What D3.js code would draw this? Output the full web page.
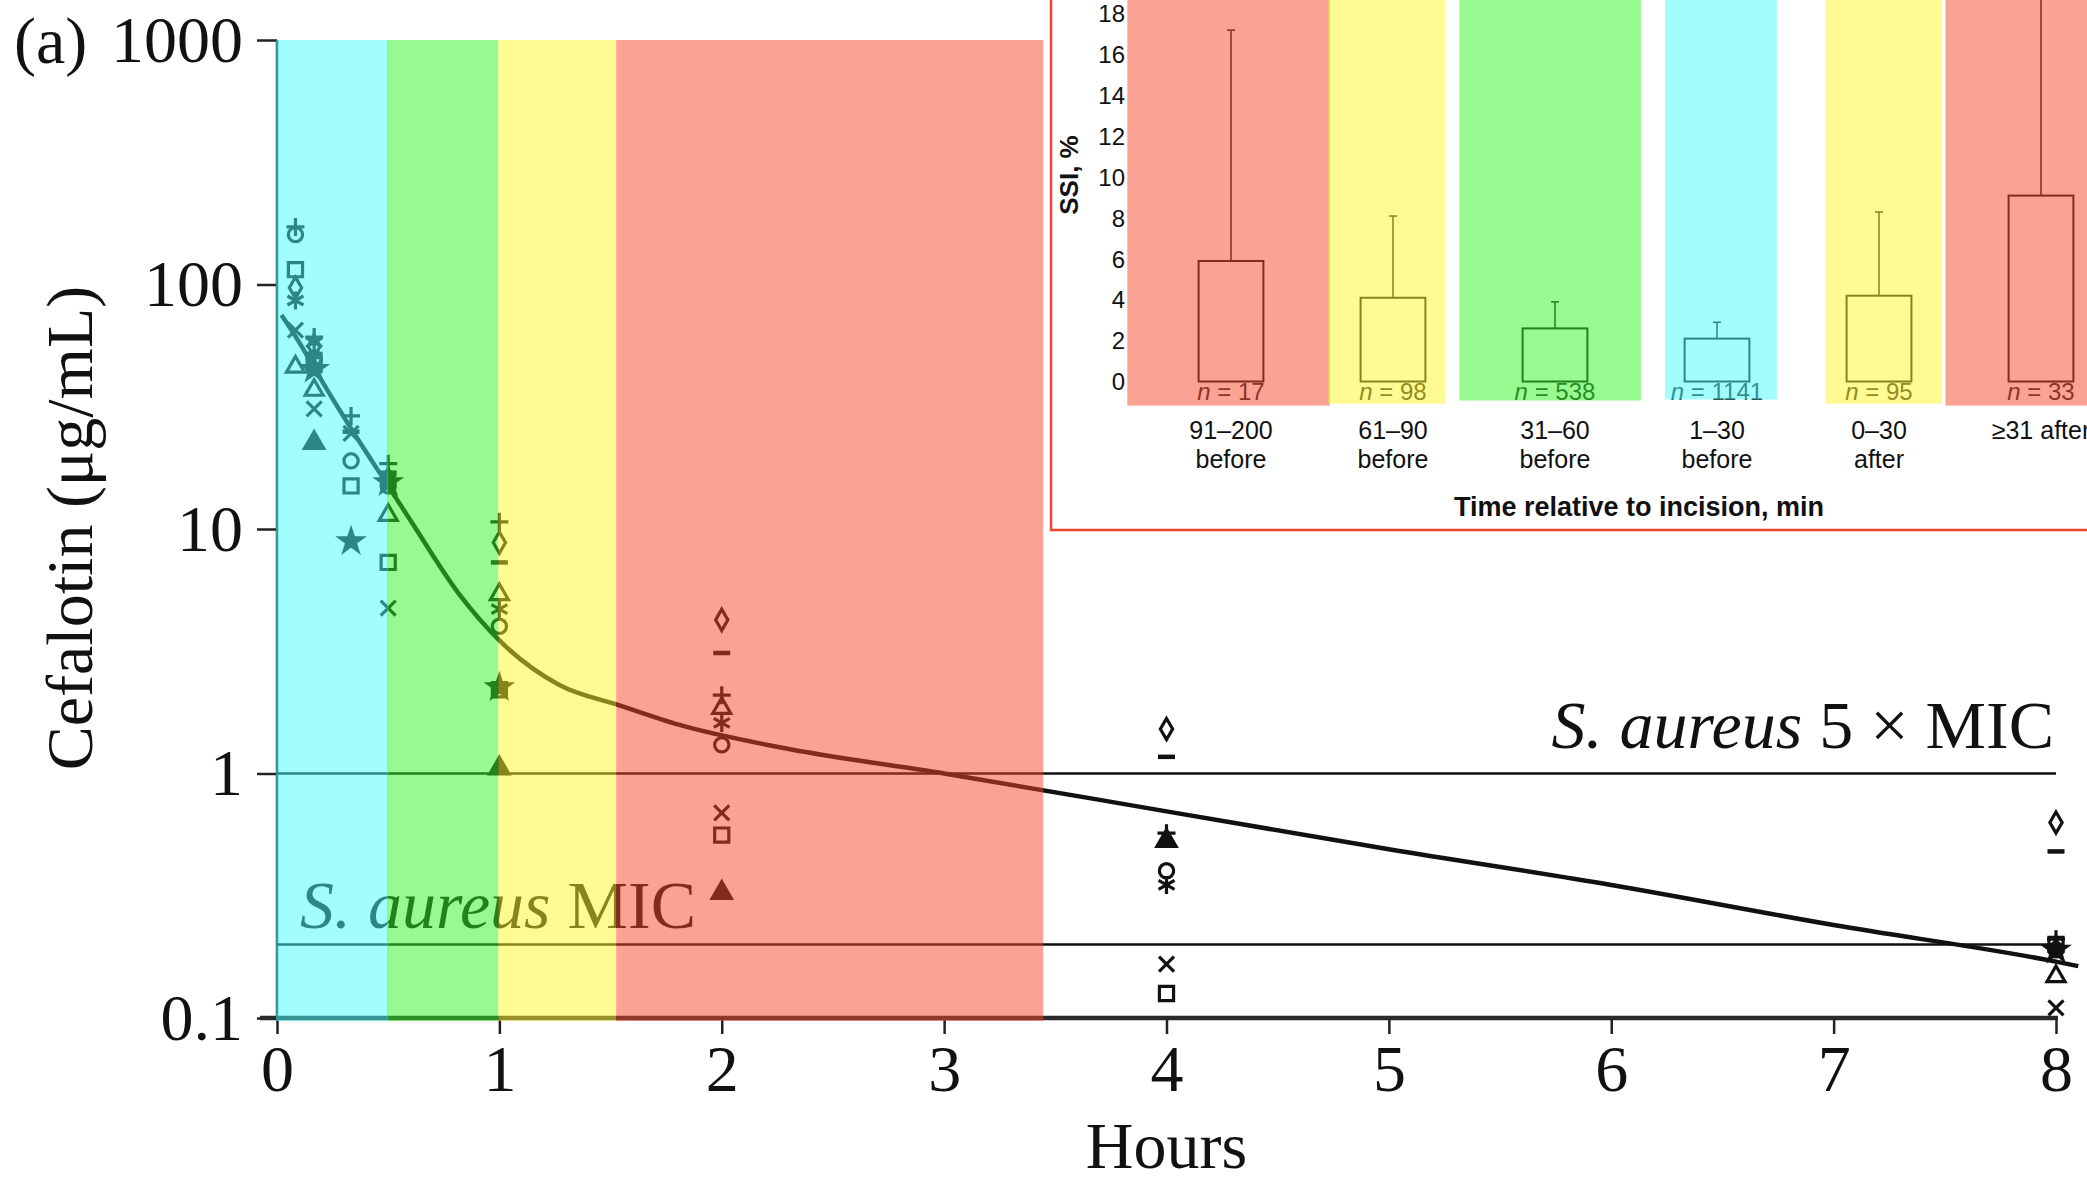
<!DOCTYPE html>
<html lang="en">
<head>
<meta charset="utf-8">
<script src="https://d3js.org/d3.v7.min.js"></script>
<style>
  body { margin: 0; background: #fff; }
  svg { display: block; }
</style>
</head>
<body>
<script>
// ---- main panel: cefalotin concentration (ug/mL) vs hours ----
var sampleHours = [0.083, 0.167, 0.333, 0.5, 1, 2, 4, 8];

var concCircle    = [160, 50, 19, 15, 4.0, 1.31, 0.40, 0.19];
var concSquare    = [115, 47, 15, 7.3, 2.2, 0.56, 0.126, 0.2];
var concDiamond   = [97, 56, null, 16, 8.8, 4.25, 1.52, 0.63];
var concTriangle  = [46, 37, null, 11.4, 5.4, 1.85, null, 0.148];
var concTriFilled = [null, 22.5, null, null, 1.05, 0.325, 0.53, null];
var concTimes     = [65, 31, 24.6, 4.75, null, 0.69, 0.166, 0.11];
var concPlus      = [172, 61, 29, 18.5, 10.7, 2.09, 0.57, 0.21];
var concMinus     = [null, 52, 25, 17, 7.3, 3.11, 1.17, 0.48];
var concStar      = [null, 45, 8.9, 15.5, 2.25, null, null, 0.19];
var concAsterisk  = [86, 58, null, 16, 4.7, 1.61, 0.35, null];

// fitted curve
var fitHours = [0.02, 0.1, 0.19, 0.33, 0.5, 0.61, 0.82, 1, 1.27, 1.54, 1.81, 2.26, 3, 4, 5, 6, 7, 8, 8.1];
var fitConc  = [75, 58, 42, 26, 15, 10.5, 5.4, 3.5, 2.3, 1.9, 1.58, 1.28, 1.0, 0.70, 0.49, 0.35, 0.24, 0.17, 0.163];

var micLevels = [1, 0.2];          // 5 x MIC, MIC
var yTicks = [0.1, 1, 10, 100, 1000];
var xTicks = [0, 1, 2, 3, 4, 5, 6, 7, 8];

// highlighted timing windows (h)
var bandStart = [0, 0.5, 1, 1.53];
var bandEnd   = [0.5, 1, 1.53, 3.45];
var bandFill  = ["rgb(69,251,251)", "rgb(45,245,35)", "rgb(255,245,35)", "rgb(245,69,41)"];

// ---- inset: SSI rate by timing of prophylaxis ----
var ssiTop    = ["91–200", "61–90", "31–60", "1–30", "0–30", "≥31 after"];
var ssiBottom = ["before", "before", "before", "before", "after", ""];
var ssiRate   = [5.9, 4.1, 2.6, 2.1, 4.2, 9.1];
var ssiUpper  = [17.2, 8.1, 3.9, 2.9, 8.3, 25];
var ssiN      = [17, 98, 538, 1141, 95, 33];
var ssiTicks  = [0, 2, 4, 6, 8, 10, 12, 14, 16, 18];
var ssiBandFill = ["rgb(245,69,41)", "rgb(255,245,35)", "rgb(45,245,35)", "rgb(69,251,251)", "rgb(255,245,35)", "rgb(245,69,41)"];
var ssiBandLo = [-0.64, -0.40, -0.59, -0.32, -0.33, -0.59];
var ssiBandHi = [0.61, 0.32, 0.53, 0.37, 0.39, 1.2];
var ssiBandBottom = [405.6, 403.6, 400.5, 399.5, 403.6, 405.6];

var W = 2087, H = 1179;
var serif = "'Liberation Serif', 'Times New Roman', serif";
var sans = "'Liberation Sans', Arial, sans-serif";

var svg = d3.select("body").append("svg").attr("width", W).attr("height", H);

var x = d3.scaleLinear().domain([0, 8]).range([277, 2056]);
var y = d3.scaleLog().domain([0.1, 1000]).range([1018, 40]);

// custom stroked symbols
function strokeSym(fn) { return { draw: fn }; }
var symPlus = strokeSym(function (c) { c.moveTo(-9, 0); c.lineTo(9, 0); c.moveTo(0, -9); c.lineTo(0, 9); });
var symTimes = strokeSym(function (c) { c.moveTo(-7.5, -7.5); c.lineTo(7.5, 7.5); c.moveTo(-7.5, 7.5); c.lineTo(7.5, -7.5); });
var symMinus = strokeSym(function (c) { c.moveTo(-8.5, 0); c.lineTo(8.5, 0); });
var symAst = strokeSym(function (c) {
  c.moveTo(0, -9); c.lineTo(0, 9);
  c.moveTo(-8, -4.5); c.lineTo(8, 4.5);
  c.moveTo(-8, 4.5); c.lineTo(8, -4.5);
});

var subjects = [
  { vals: concCircle,    type: d3.symbolCircle,   size: 160, filled: false },
  { vals: concSquare,    type: d3.symbolSquare,   size: 200, filled: false },
  { vals: concDiamond,   type: d3.symbolDiamond,  size: 130, filled: false },
  { vals: concTriangle,  type: d3.symbolTriangle, size: 140, filled: false },
  { vals: concTriFilled, type: d3.symbolTriangle, size: 160, filled: true },
  { vals: concTimes,     type: symTimes,          size: 1,   filled: false },
  { vals: concPlus,      type: symPlus,           size: 1,   filled: false },
  { vals: concMinus,     type: symMinus,          size: 1,   filled: false, wide: true },
  { vals: concStar,      type: d3.symbolStar,     size: 150, filled: true },
  { vals: concAsterisk,  type: symAst,            size: 1,   filled: false }
];

var main = svg.append("g");

// axes
var yAxis = d3.axisLeft(y).tickValues(yTicks).tickFormat(d3.format("~g"))
  .tickSize(20).tickPadding(14);
var gy = main.append("g").attr("transform", "translate(" + x(0) + ",0)").call(yAxis);
gy.select(".domain").remove();
gy.selectAll(".tick line").attr("stroke", "#222").attr("stroke-width", 2.5);
gy.selectAll(".tick text").attr("font-family", serif).attr("font-size", 66).attr("fill", "#111");

var xAxis = d3.axisBottom(x).tickValues(xTicks).tickSize(16).tickPadding(10);
var gx = main.append("g").attr("transform", "translate(0," + y(0.1) + ")").call(xAxis);
gx.select(".domain").remove();
gx.selectAll(".tick line").attr("stroke", "#222").attr("stroke-width", 2.5);
gx.selectAll(".tick text").attr("font-family", serif).attr("font-size", 66).attr("fill", "#111");

main.append("line")
  .attr("x1", x(0)).attr("x2", x(0)).attr("y1", y(1000)).attr("y2", y(0.1))
  .attr("stroke", "#333").attr("stroke-width", 2.5);
main.append("line")
  .attr("x1", x(0) - 17).attr("x2", x(8) + 2).attr("y1", y(0.1)).attr("y2", y(0.1))
  .attr("stroke", "#2a2a2a").attr("stroke-width", 4.5);

// MIC reference lines
main.selectAll(".mic").data(micLevels).enter().append("line")
  .attr("x1", x(0)).attr("x2", x(8))
  .attr("y1", function (d) { return y(d); }).attr("y2", function (d) { return y(d); })
  .attr("stroke", "#111").attr("stroke-width", 2.5);

// fitted curve
var line = d3.line()
  .x(function (d) { return x(d[0]); })
  .y(function (d) { return y(d[1]); })
  .curve(d3.curveMonotoneX);
main.append("path").datum(d3.zip(fitHours, fitConc))
  .attr("d", line).attr("fill", "none")
  .attr("stroke", "#111").attr("stroke-width", 4.5);

// individual subjects
subjects.forEach(function (s) {
  var pts = sampleHours.map(function (h, i) { return [h, s.vals[i]]; })
    .filter(function (p) { return p[1] != null; });
  var sym = d3.symbol().type(s.type).size(s.size);
  main.append("g").selectAll("path").data(pts).enter().append("path")
    .attr("transform", function (p) { return "translate(" + x(p[0]) + "," + y(p[1]) + ")"; })
    .attr("d", sym)
    .attr("fill", s.filled ? "#111" : "none")
    .attr("stroke", "#111")
    .attr("stroke-width", s.wide ? 4.5 : 3.2);
});

// labels
main.append("text").attr("x", 14).attr("y", 63)
  .attr("font-family", serif).attr("font-size", 66).attr("fill", "#111").text("(a)");

main.append("text")
  .attr("transform", "translate(92,528) rotate(-90)")
  .attr("text-anchor", "middle")
  .attr("font-family", serif).attr("font-size", 66).attr("fill", "#111")
  .text("Cefalotin (μg/mL)");

main.append("text").attr("x", x(4)).attr("y", 1168)
  .attr("text-anchor", "middle")
  .attr("font-family", serif).attr("font-size", 66).attr("fill", "#111").text("Hours");

var lab1 = main.append("text").attr("x", 2054).attr("y", 748).attr("text-anchor", "end")
  .attr("font-family", serif).attr("font-size", 68).attr("fill", "#111");
lab1.append("tspan").attr("font-style", "italic").text("S. aureus");
lab1.append("tspan").text(" 5 × MIC");

var lab2 = main.append("text").attr("x", 300).attr("y", 928)
  .attr("font-family", serif).attr("font-size", 68).attr("fill", "#111");
lab2.append("tspan").attr("font-style", "italic").text("S. aureus");
lab2.append("tspan").text(" MIC");

// translucent timing bands over everything in the panel
main.append("g").selectAll("rect").data(bandStart).enter().append("rect")
  .attr("x", function (d) { return x(d) - 1; })
  .attr("width", function (d, i) { return x(bandEnd[i]) - x(d) + (i === 0 ? 1 : 0); })
  .attr("y", y(1000)).attr("height", y(0.1) - y(1000) + 3)
  .attr("fill", function (d, i) { return bandFill[i]; })
  .attr("opacity", 0.5);

// ---- inset ----
var inset = svg.append("g");
var xs = d3.scaleLinear().domain([0, 5]).range([1231, 2041]);
var ys = d3.scaleLinear().domain([0, 18]).range([381.5, 13.8]);
var step = xs(1) - xs(0);
var boxW = step * 0.4;

inset.append("rect").attr("x", 1051).attr("y", -20).attr("width", 1200).attr("height", 550)
  .attr("fill", "#fff");

inset.selectAll(".ytick").data(ssiTicks).enter().append("text")
  .attr("x", 1125).attr("y", function (d) { return ys(d); }).attr("dy", "0.36em")
  .attr("text-anchor", "end")
  .attr("font-family", sans).attr("font-size", 24).attr("fill", "#111")
  .text(function (d) { return d; });

inset.append("text")
  .attr("transform", "translate(1078,175) rotate(-90)")
  .attr("text-anchor", "middle")
  .attr("font-family", sans).attr("font-weight", "bold").attr("font-size", 26).attr("fill", "#111")
  .text("SSI, %");

var grp = inset.selectAll(".grp").data(ssiRate).enter().append("g");
grp.append("rect")
  .attr("x", function (d, i) { return xs(i) - boxW / 2; })
  .attr("width", boxW)
  .attr("y", function (d) { return ys(d); })
  .attr("height", function (d) { return ys(0) - ys(d); })
  .attr("fill", "none").attr("stroke", "#111").attr("stroke-width", 2);
grp.append("line")
  .attr("x1", function (d, i) { return xs(i); }).attr("x2", function (d, i) { return xs(i); })
  .attr("y1", function (d) { return ys(d); })
  .attr("y2", function (d, i) { return ys(ssiUpper[i]); })
  .attr("stroke", "#111").attr("stroke-width", 1.5);
grp.append("line")
  .attr("x1", function (d, i) { return xs(i) - 4; }).attr("x2", function (d, i) { return xs(i) + 4; })
  .attr("y1", function (d, i) { return ys(ssiUpper[i]); })
  .attr("y2", function (d, i) { return ys(ssiUpper[i]); })
  .attr("stroke", "#111").attr("stroke-width", 1.5);
var nt = grp.append("text")
  .attr("x", function (d, i) { return xs(i); }).attr("y", 400)
  .attr("text-anchor", "middle")
  .attr("font-family", sans).attr("font-size", 24).attr("fill", "#222");
nt.append("tspan").attr("font-style", "italic").text("n");
nt.append("tspan").text(function (d, i) { return " = " + ssiN[i]; });

// translucent highlight bands in the inset
inset.append("g").selectAll("rect").data(ssiBandLo).enter().append("rect")
  .attr("x", function (d, i) { return xs(i) + d * step; })
  .attr("width", function (d, i) { return (ssiBandHi[i] - d) * step; })
  .attr("y", -20)
  .attr("height", function (d, i) { return ssiBandBottom[i] + 20; })
  .attr("fill", function (d, i) { return ssiBandFill[i]; })
  .attr("opacity", 0.5);

inset.selectAll(".cat1").data(ssiTop).enter().append("text")
  .attr("x", function (d, i) { return xs(i); }).attr("y", 439)
  .attr("text-anchor", "middle")
  .attr("font-family", sans).attr("font-size", 25).attr("fill", "#111")
  .text(function (d) { return d; });
inset.selectAll(".cat2").data(ssiBottom).enter().append("text")
  .attr("x", function (d, i) { return xs(i); }).attr("y", 468)
  .attr("text-anchor", "middle")
  .attr("font-family", sans).attr("font-size", 25).attr("fill", "#111")
  .text(function (d) { return d; });

inset.append("text").attr("x", 1639).attr("y", 516).attr("text-anchor", "middle")
  .attr("font-family", sans).attr("font-weight", "bold").attr("font-size", 27).attr("fill", "#111")
  .text("Time relative to incision, min");

inset.append("rect").attr("x", 1051).attr("y", -20).attr("width", 1200).attr("height", 550)
  .attr("fill", "none").attr("stroke", "rgb(240,70,45)").attr("stroke-width", 2.5);
</script>
</body>
</html>
